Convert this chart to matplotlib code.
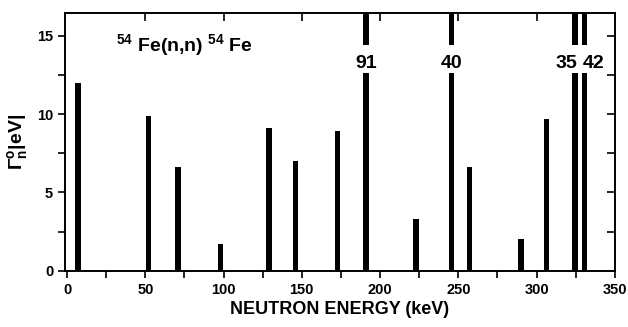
import matplotlib
matplotlib.use('Agg')
import matplotlib.pyplot as plt
from matplotlib.ticker import MultipleLocator, FixedLocator

# ── data ─────────────────────────────────────────────────────────────────
energy_kev = [7, 52, 71, 98, 129, 146, 173, 191, 223, 245.5, 257, 290, 306.5, 324.5, 330.5]
gamma_n    = [12.0, 9.9, 6.6, 1.7, 9.1, 7.0, 8.9, 91, 3.3, 40, 6.6, 2.0, 9.7, 35, 42]

# off-scale resonances get their value printed on the bar
off_scale  = [91, 40, 35, 42]

GAP_LO, GAP_HI = 12.6, 14.4   # where the bar is broken for the label
LABEL_Y = 13.2
BAR_W = 3.4

plt.rcParams.update({
    "font.family": "Liberation Sans",
    "font.weight": "bold",
    "mathtext.fontset": "custom",
    "mathtext.rm": "Liberation Sans:bold",
    "mathtext.it": "Liberation Sans:bold",
    "mathtext.bf": "Liberation Sans:bold",
    "axes.linewidth": 1.4,
})

fig = plt.figure(figsize=(6.28, 3.27), dpi=100)
ax = fig.add_axes([0.1035, 0.172, 0.8755, 0.788])

ax.bar(energy_kev, gamma_n, width=BAR_W, color='black', linewidth=0)

ax.set_xlim(-1.3, 350)
ax.set_ylim(0, 16.45)

# labels for the off-scale bars, bar broken by a white gap
for x, v in zip(energy_kev, gamma_n):
    if v not in off_scale:
        continue
    ax.bar(x, GAP_HI - GAP_LO, bottom=GAP_LO, width=BAR_W + 0.6,
           color='white', linewidth=0, zorder=3)
    if v == 35:
        ha, xo = 'right', 1.2
    elif v == 42:
        ha, xo = 'left', -1.2
    else:
        ha, xo = 'center', 0
    ax.text(x + xo, LABEL_Y, str(v), ha=ha, va='center',
            fontsize=14, fontweight='bold', zorder=4)

ax.text(31, 14.4, r'$^{54}$ Fe(n,n) $^{54}$ Fe', fontsize=14, fontweight='bold',
        ha='left', va='center')

ax.set_xlabel('NEUTRON ENERGY (keV)', fontsize=13, fontweight='bold', labelpad=3)
ax.set_ylabel(r'$\Gamma_n^o$|eV|', fontsize=14, fontweight='bold', labelpad=5)

# ticks: bottom/left out, top/right in
ax.xaxis.set_major_locator(MultipleLocator(50))
ax.xaxis.set_minor_locator(MultipleLocator(25))
ax.yaxis.set_major_locator(MultipleLocator(5))
ax.yaxis.set_minor_locator(MultipleLocator(2.5))
ax.tick_params(axis='both', which='major', direction='out', length=5, width=1.2,
               labelsize=10.5, top=False, right=False)
ax.tick_params(axis='both', which='minor', direction='out', length=5, width=1.2,
               top=False, right=False)

ax_t = ax.secondary_xaxis('top')
ax_t.xaxis.set_major_locator(FixedLocator([50, 100, 150, 200, 250, 300]))
ax_t.tick_params(direction='in', length=6, width=1.2, labeltop=False)
ax_r = ax.secondary_yaxis('right')
ax_r.yaxis.set_major_locator(MultipleLocator(2.5))
ax_r.tick_params(direction='in', length=6, width=1.2, labelright=False)
for a in (ax_t, ax_r):
    for s in a.spines.values():
        s.set_visible(False)

fig.savefig('out.png', dpi=100, facecolor='white')
